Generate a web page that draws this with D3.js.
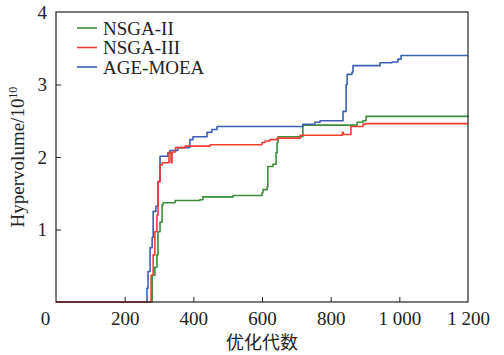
<!DOCTYPE html>
<html>
<head>
<meta charset="utf-8">
<script src="https://cdn.jsdelivr.net/npm/d3@7"></script>
<style>
  body { margin: 0; background: #fff; }
  text { font-family: "Liberation Serif", "DejaVu Serif", serif; fill: #222; }
</style>
</head>
<body>
<svg id="svg_hv" width="504" height="355"></svg>
<script>

// Data: [generation, hypervolume / 1e10], step-after
const series_names = ["NSGA-II", "NSGA-III", "AGE-MOEA"];

const nsga2 = [
    [0, 0], [268, 0], [280, 0.37], [288, 0.48], [294, 0.65], [297, 0.97],
    [303, 1.1], [309, 1.34], [312, 1.37], [347, 1.40], [419, 1.41], [428, 1.45],
    [516, 1.47], [600, 1.51], [603, 1.55], [615, 1.59], [617, 1.87], [632, 1.90],
    [641, 2.06], [644, 2.2], [647, 2.28], [719, 2.44], [877, 2.48], [894, 2.5],
    [903, 2.56], [1200, 2.57]
];

const nsga3 = [
    [0, 0], [274, 0], [277, 0.37], [283, 0.65], [288, 0.97], [294, 1.2],
    [297, 1.66], [303, 1.89], [309, 1.92], [329, 2.06], [335, 1.92], [338, 2.07],
    [348, 2.13], [376, 2.15], [449, 2.17], [600, 2.2], [609, 2.22], [623, 2.24],
    [644, 2.26], [711, 2.3], [834, 2.34], [837, 2.31], [859, 2.42], [894, 2.45],
    [900, 2.46], [1200, 2.46]
];

const agemoea = [
    [0, 0], [259, 0], [265, 0.19], [268, 0.42], [274, 0.75], [280, 0.89],
    [283, 1.25], [291, 1.32], [297, 1.66], [303, 2.01], [326, 2.06], [332, 2.09],
    [355, 2.13], [390, 2.24], [399, 2.28], [440, 2.34], [454, 2.38], [469, 2.42],
    [719, 2.45], [754, 2.48], [769, 2.5], [836, 2.63], [845, 3.0], [848, 3.14],
    [862, 3.17], [865, 3.26], [944, 3.3], [979, 3.31], [996, 3.35], [1005, 3.40],
    [1200, 3.40]
];

const x_ticks = [0, 200, 400, 600, 800, 1000, 1200],
    y_ticks = [1, 2, 3, 4];

const all_series = [nsga2, nsga3, agemoea];

// drawing order (red ends up on top, as in the figure)
const draw_order = [0, 2, 1];


// Layout and colors
const svg = d3.select("#svg_hv");

const plot_left = 56, plot_right = 468, plot_top = 12, plot_bottom = 302;

const colors = ["#3c8c3c", "#f23c32", "#3c5fb4"];

const x_scale = d3.scaleLinear().domain([0, 1200]).range([plot_left, plot_right]);
const y_scale = d3.scaleLinear().domain([0, 4]).range([plot_bottom, plot_top]);

// thousands with a space, as in the figure
const fmt_x = d => d >= 1000 ? d3.format(",")(d).replace(",", " ") : String(d);


// Curves
const line = d3.line()
    .x(d => x_scale(d[0]))
    .y(d => y_scale(d[1]))
    .curve(d3.curveStepAfter);

svg.append("g")
    .attr("class", "curves")
    .selectAll("path")
    .data(draw_order)
    .enter().append("path")
    .attr("d", k => line(all_series[k]))
    .attr("fill", "none")
    .attr("stroke", k => colors[k])
    .attr("stroke-width", 1.6)
    .attr("stroke-linejoin", "round");


// Axes: inward ticks
const x_axis = d3.axisBottom(x_scale)
    .tickValues(x_ticks)
    .tickSizeInner(-5)
    .tickSizeOuter(0)
    .tickPadding(10)
    .tickFormat(fmt_x);

const gx = svg.append("g")
    .attr("class", "xaxis")
    .attr("transform", `translate(0,${plot_bottom})`)
    .call(x_axis);

const y_axis = d3.axisLeft(y_scale)
    .tickValues(y_ticks)
    .tickSizeInner(-5)
    .tickSizeOuter(0)
    .tickPadding(9)
    .tickFormat(d3.format("d"));

const gy = svg.append("g")
    .attr("class", "yaxis")
    .attr("transform", `translate(${plot_left},0)`)
    .call(y_axis);

[gx, gy].forEach(g => {
    g.select(".domain").remove();
    g.selectAll("line").attr("stroke", "#222");
    g.selectAll("text")
        .style("font-size", "19px")
        .attr("fill", "#222");
});

// the first x label sits a bit to the left of the corner
gx.selectAll(".tick").filter(d => d === 0).select("text").attr("dx", -11);
gx.selectAll(".tick").filter(d => d === 0 || d === 1200).select("line").remove();
gy.selectAll(".tick").filter(d => d === 4).select("line").remove();

// frame
svg.append("rect")
    .attr("x", plot_left)
    .attr("y", plot_top)
    .attr("width", plot_right - plot_left)
    .attr("height", plot_bottom - plot_top)
    .attr("fill", "none")
    .attr("stroke", "#222")
    .attr("stroke-width", 1.2);


// Axis titles
svg.append("text")
    .attr("x", (plot_left + plot_right) / 2)
    .attr("y", 349)
    .attr("text-anchor", "middle")
    .style("font-family", "'Noto Sans CJK SC', sans-serif")
    .style("font-size", "18px")
    .text("优化代数");

const ytitle = svg.append("text")
    .attr("transform", `translate(24,${(plot_top + plot_bottom) / 2}) rotate(-90)`)
    .attr("text-anchor", "middle")
    .style("font-size", "19px");

ytitle.append("tspan").text("Hypervolume/10");
ytitle.append("tspan")
    .attr("dy", -7)
    .style("font-size", "12px")
    .text("10");


// Legend
const legend = svg.append("g")
    .attr("class", "legend")
    .selectAll("g")
    .data(series_names)
    .enter().append("g")
    .attr("transform", (d, i) => `translate(77,${28 + i * 19.5})`);

legend.append("line")
    .attr("x1", 0)
    .attr("x2", 20)
    .attr("stroke", (d, i) => colors[i])
    .attr("stroke-width", 1.6);

legend.append("text")
    .attr("x", 26)
    .attr("dy", "0.35em")
    .style("font-size", "19px")
    .text(d => d);

</script>
</body>
</html>
